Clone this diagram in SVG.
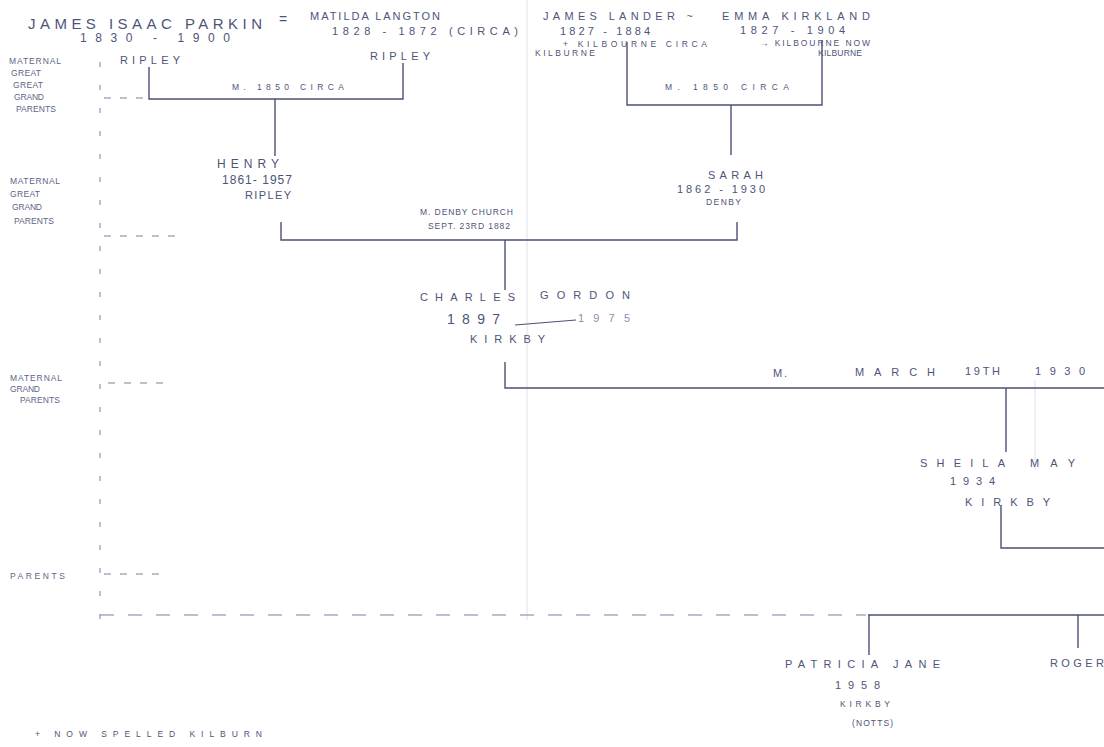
<svg xmlns="http://www.w3.org/2000/svg" width="1104" height="747" viewBox="0 0 1104 747">
<style>
text{font-family:"Liberation Sans",Arial,sans-serif;fill:#4e5478;}
.t{font-size:14px;}
.s{font-size:11px;}
.xs{font-size:8.5px;}
.lbl{font-size:8.5px;fill:#5e6488;}
.ln{stroke:#4a5075;stroke-width:1.4;fill:none;}
.dash{stroke:#7a80a0;stroke-width:1.2;fill:none;stroke-dasharray:7 9;}
.axis{stroke:#9095b0;stroke-width:1.2;fill:none;stroke-dasharray:5 18;}
.fold{stroke:#e2e2ea;stroke-width:1;fill:none;}
</style>
<rect width="1104" height="747" fill="#ffffff"/>
<g id="paper">
<line class="fold" x1="527" y1="0" x2="527" y2="620"/>
<line class="fold" x1="1035" y1="380" x2="1035" y2="470"/>
</g>
<g id="generation-labels">
<line class="axis" x1="100" y1="62" x2="100" y2="628"/>
<text class="lbl" x="9" y="64" textLength="52">MATERNAL</text>
<text class="lbl" x="11" y="76" textLength="30">GREAT</text>
<text class="lbl" x="13" y="88" textLength="30">GREAT</text>
<text class="lbl" x="14" y="100" textLength="30">GRAND</text>
<text class="lbl" x="16" y="112" textLength="40">PARENTS</text>
<line class="dash" x1="104" y1="98" x2="146" y2="98"/>
<text class="lbl" x="10" y="184" textLength="50">MATERNAL</text>
<text class="lbl" x="10" y="197" textLength="30">GREAT</text>
<text class="lbl" x="12" y="210" textLength="30">GRAND</text>
<text class="lbl" x="14" y="224" textLength="40">PARENTS</text>
<line class="dash" x1="104" y1="236" x2="175" y2="236"/>
<text class="lbl" x="10" y="381" textLength="52">MATERNAL</text>
<text class="lbl" x="10" y="392" textLength="30">GRAND</text>
<text class="lbl" x="20" y="403" textLength="40">PARENTS</text>
<line class="dash" x1="108" y1="383" x2="170" y2="383"/>
<text class="lbl" x="10" y="579" textLength="55">PARENTS</text>
<line class="dash" x1="104" y1="574" x2="165" y2="574"/>
</g>
<g id="connectors">
<polyline class="ln" points="149,67 149,99 403,99 403,63"/>
<line class="ln" x1="275" y1="99" x2="275" y2="156"/>
<polyline class="ln" points="627,42 627,105 822,105 822,40"/>
<line class="ln" x1="731" y1="105" x2="731" y2="155"/>
<polyline class="ln" points="281,222 281,240 737,240 737,222"/>
<line class="ln" x1="505" y1="240" x2="505" y2="290"/>
<polyline class="ln" points="505,362 505,388 1104,388"/>
<line class="ln" x1="1006" y1="388" x2="1006" y2="452"/>
<polyline class="ln" points="1001,505 1001,548 1104,548"/>
<line class="dash" x1="100" y1="615" x2="866" y2="615" style="stroke-dasharray:14 14"/>
<line class="ln" x1="868" y1="615" x2="1104" y2="615"/>
<line class="ln" x1="869" y1="615" x2="869" y2="655"/>
<line class="ln" x1="1078" y1="615" x2="1078" y2="648"/>
<line class="ln" x1="515" y1="325" x2="576" y2="320" style="stroke-width:1"/>
</g>
<g id="james-isaac-parkin">
<text class="t" x="28" y="29" textLength="234" style="font-size:15px">JAMES ISAAC PARKIN</text>
<text class="t" x="80" y="42" textLength="150" style="font-size:12px">1830 - 1900</text>
<text class="s" x="120" y="64" textLength="60">RIPLEY</text>
</g>
<text class="t" x="279" y="24">=</text>
<g id="matilda-langston">
<text class="s" x="310" y="20" textLength="130">MATILDA LANGTON</text>
<text class="s" x="332" y="35" textLength="186">1828 - 1872 (CIRCA)</text>
<text class="s" x="370" y="60" textLength="60">RIPLEY</text>
</g>
<text class="xs" x="232" y="90" textLength="112">M. 1850 CIRCA</text>
<g id="james-lander">
<text class="s" x="543" y="20" textLength="150">JAMES LANDER ~</text>
<text class="s" x="560" y="35" textLength="90">1827 - 1884</text>
<text class="xs" x="563" y="47" textLength="144">+ KILBOURNE CIRCA</text>
<text class="xs" x="535" y="56" textLength="60">KILBURNE</text>
</g>
<g id="emma-kirkland">
<text class="s" x="722" y="20" textLength="148">EMMA KIRKLAND</text>
<text class="s" x="740" y="34" textLength="105">1827 - 1904</text>
<text class="xs" x="760" y="46" textLength="110">→ KILBOURNE NOW</text>
<text class="xs" x="818" y="56" textLength="44">KILBURNE</text>
</g>
<text class="xs" x="665" y="90" textLength="124">M. 1850 CIRCA</text>
<g id="henry">
<text class="t" x="217" y="168" textLength="62" style="font-size:12px">HENRY</text>
<text class="t" x="222" y="184" textLength="70" style="font-size:12px">1861- 1957</text>
<text class="s" x="245" y="199" textLength="46">RIPLEY</text>
</g>
<g id="sarah">
<text class="s" x="708" y="179" textLength="55">SARAH</text>
<text class="s" x="677" y="193" textLength="88">1862 - 1930</text>
<text class="xs" x="706" y="205" textLength="35">DENBY</text>
</g>
<text class="xs" x="420" y="215" textLength="93">M. DENBY CHURCH</text>
<text class="xs" x="428" y="229" textLength="82">SEPT. 23RD 1882</text>
<g id="charles-gordon">
<text class="s" x="420" y="301" textLength="95">CHARLES</text>
<text class="s" x="540" y="299" textLength="90">GORDON</text>
<text class="t" x="447" y="324" textLength="53">1897</text>
<text class="s" x="578" y="322" textLength="52" style="fill:#8a90b0">1975</text>
<text class="s" x="470" y="343" textLength="75">KIRKBY</text>
</g>
<text class="s" x="773" y="377" textLength="14">M.</text>
<text class="s" x="855" y="376" textLength="80">MARCH</text>
<text class="s" x="965" y="375" textLength="35">19TH</text>
<text class="s" x="1035" y="375" textLength="50">1930</text>
<g id="sheila-may">
<text class="s" x="920" y="467" textLength="85">SHEILA</text>
<text class="s" x="1030" y="467" textLength="45">MAY</text>
<text class="s" x="950" y="485" textLength="45">1934</text>
<text class="s" x="965" y="506" textLength="85">KIRKBY</text>
</g>
<g id="patricia-jane">
<text class="s" x="785" y="668" textLength="155">PATRICIA JANE</text>
<text class="s" x="835" y="689" textLength="45">1958</text>
<text class="xs" x="840" y="707" textLength="50">KIRKBY</text>
<text class="xs" x="852" y="726" textLength="41">(NOTTS)</text>
</g>
<g id="roger">
<text class="s" x="1050" y="667" textLength="54">ROGER</text>
</g>
<text class="xs" x="35" y="737" textLength="227">+ NOW SPELLED KILBURN</text>
</svg>
